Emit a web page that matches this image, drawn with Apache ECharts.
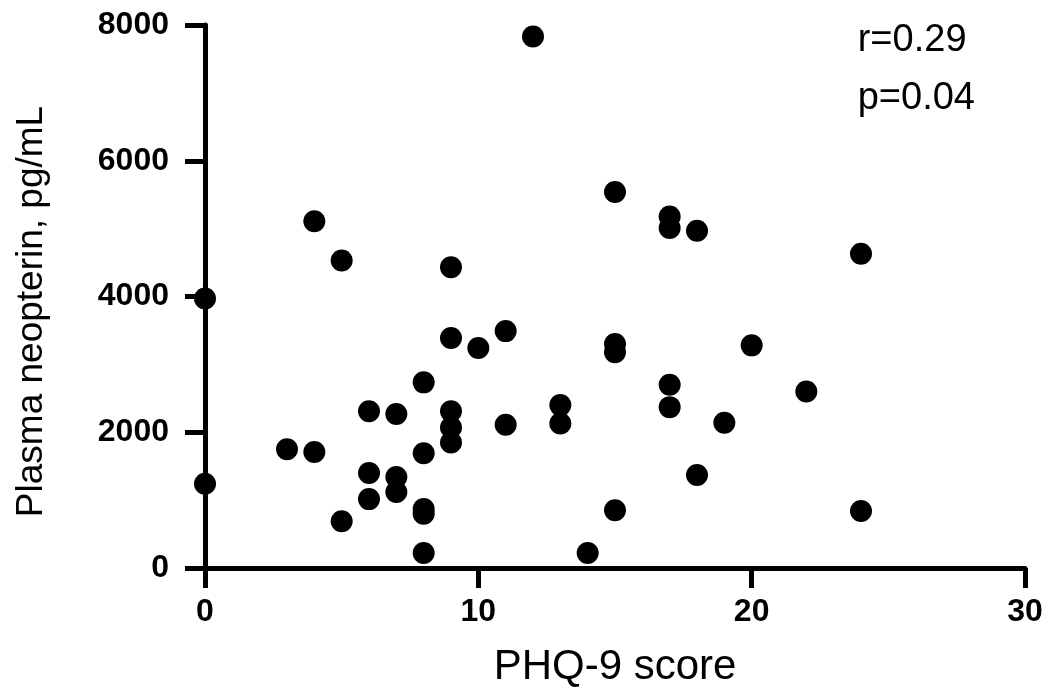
<!DOCTYPE html>
<html>
<head>
<meta charset="utf-8">
<script src="https://cdn.jsdelivr.net/npm/echarts@6/dist/echarts.min.js"></script>
<style>
  html, body { margin: 0; padding: 0; background: #fff; }
  #chart { width: 1052px; height: 700px; }
</style>
</head>
<body>
<div id="chart"></div>
<script>
// PHQ-9 score vs plasma neopterin
const phqScores = [0, 0, 3, 4, 4, 5, 5, 6, 6, 6, 7, 7, 7, 8, 8, 8, 8, 8, 9, 9, 9, 9, 9, 10, 11, 11, 12, 13, 13, 14, 15, 15, 15, 15, 17, 17, 17, 17, 18, 18, 19, 20, 22, 24, 24];
const neopterin = [3970, 1240, 1750, 1710, 5110, 4530, 690, 2310, 1400, 1015, 2270, 1340, 1120, 2735, 1690, 870, 800, 220, 4430, 3390, 2310, 2070, 1850, 3240, 3490, 2110, 7830, 2400, 2130, 220, 5540, 3300, 3180, 850, 5180, 5010, 2700, 2370, 4970, 1370, 2140, 3280, 2600, 4630, 840];
const xTicks = [0, 10, 20, 30];
const yTicks = [0, 2000, 4000, 6000, 8000];
const statLines = ['r=0.29', 'p=0.04'];

const points = phqScores.map((x, i) => [x, neopterin[i]]);

const chart = echarts.init(document.getElementById('chart'));

const fontFamily = '"Liberation Sans", Arial, sans-serif';
const axisLine = { show: true, onZero: false, lineStyle: { color: '#000', width: 5 } };
const axisTick = { show: true, length: 20, lineStyle: { color: '#000', width: 5 } };
const tickFont = { color: '#000', fontSize: 32, fontWeight: 'bold', fontFamily: fontFamily };

chart.setOption({
  animation: false,
  grid: { left: 205, right: 27, top: 25, bottom: 132, containLabel: false },
  xAxis: {
    type: 'value',
    min: xTicks[0],
    max: xTicks[xTicks.length - 1],
    interval: 10,
    name: 'PHQ-9 score',
    nameLocation: 'middle',
    nameGap: 78,
    nameTextStyle: { color: '#000', fontSize: 42, fontFamily: fontFamily },
    axisLine: axisLine,
    axisTick: axisTick,
    axisLabel: Object.assign({ margin: 28 }, tickFont),
    splitLine: { show: false }
  },
  yAxis: {
    type: 'value',
    min: yTicks[0],
    max: yTicks[yTicks.length - 1],
    interval: 2000,
    name: 'Plasma neopterin, pg/mL',
    nameLocation: 'middle',
    nameGap: 155,
    nameTextStyle: { color: '#000', fontSize: 37, fontFamily: fontFamily, padding: [0, 30, 0, 0] },
    axisLine: axisLine,
    axisTick: axisTick,
    axisLabel: Object.assign({ margin: 36, formatter: v => String(v) }, tickFont),
    splitLine: { show: false }
  },
  graphic: [
    {
      type: 'text',
      right: 77,
      top: 12,
      style: {
        text: statLines.join('\n'),
        fill: '#000',
        font: '38px "Liberation Sans", Arial, sans-serif',
        lineHeight: 58,
        align: 'right'
      }
    }
  ],
  series: [
    {
      type: 'scatter',
      data: points,
      symbol: 'circle',
      symbolSize: 22,
      itemStyle: { color: '#000', opacity: 1 },
      clip: false
    }
  ]
});
</script>
</body>
</html>
